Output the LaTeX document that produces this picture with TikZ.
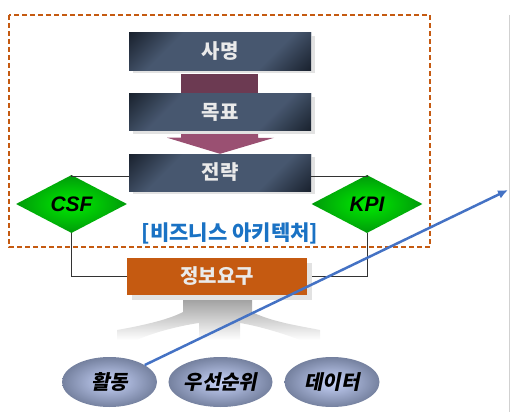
\documentclass[tikz,border=0pt]{standalone}
\usepackage{fontspec}
\setmainfont{Noto Sans CJK KR}
\newfontfamily\krit[FakeSlant=0.2]{Noto Sans CJK KR}
\newfontfamily\latit{Liberation Sans}
\usetikzlibrary{shapes.geometric,shadows,arrows.meta,calc}
\definecolor{boxdk}{HTML}{18202C}
\definecolor{boxmd}{HTML}{47576F}
\definecolor{boxtxt}{HTML}{EAEAEA}
\definecolor{orng}{HTML}{C55A11}
\definecolor{mauveA}{HTML}{6C3A52}
\definecolor{mauveB}{HTML}{9A5072}
\definecolor{archblue}{HTML}{1A72C4}
\definecolor{arrblue}{HTML}{4472C4}
\definecolor{grnin}{HTML}{00EC00}
\definecolor{grnout}{HTML}{009A0A}
\definecolor{ellin}{HTML}{C8D4FA}
\definecolor{ellout}{HTML}{75819F}
\definecolor{shd}{HTML}{E2E2E2}
\pgfdeclarehorizontalshading{boxsh}{100bp}{color(0bp)=(boxdk); color(14bp)=(boxdk); color(32bp)=(boxmd); color(68bp)=(boxmd); color(86bp)=(boxdk); color(100bp)=(boxdk)}
\begin{document}
\begin{tikzpicture}[x=1pt,y=-1pt,
  darkbox/.style={shading=boxsh, shading angle=-45, minimum width=182pt, minimum height=37pt,
    inner sep=0pt, text=boxtxt, font=\fontsize{20}{20}\selectfont\bfseries,
    drop shadow={shadow xshift=4pt, shadow yshift=-3pt, fill=shd, opacity=1}},
  infobox/.style={fill=orng, minimum width=180pt, minimum height=37pt, inner sep=0pt,
    text=boxtxt, font=\fontsize{20}{20}\selectfont\bfseries,
    drop shadow={shadow xshift=5pt, shadow yshift=-5pt, fill=shd, opacity=1}},
  gem/.style={diamond, minimum width=111pt, minimum height=58pt, inner sep=0pt,
    inner color=grnin, outer color=grnout, font=\latit\bfseries\itshape\fontsize{21}{21}\selectfont},
  ell/.style={ellipse, minimum width=95pt, minimum height=50pt, inner sep=0pt,
    inner color=ellin, outer color=ellout, font=\krit\bfseries\fontsize{20}{20}\selectfont},
  link/.style={draw=black!80, line width=0.8pt},
]
\useasboundingbox (0,0) rectangle (511,412);
% right border line
\draw[line width=1.6pt, draw=black!18] (509.5,15) -- (509.5,412);
% dashed frame
\draw[orng, line width=1.8pt, dash pattern=on 5pt off 3pt] (9,15) rectangle (430,247);

% roots shape
\shade[top color=black!38, bottom color=white]
  (183,298) -- (252,298) -- (252,312) .. controls (272,322) and (300,326) .. (320,330)
  -- (320,340) -- (300,340) .. controls (282,333) and (258,326) .. (240,323) -- (240,340)
  -- (199,340) -- (199,323) .. controls (178,326) and (152,333) .. (137,340) -- (117,340)
  -- (117,330) .. controls (140,326) and (168,320) .. (183,312) -- cycle;

% nodes
\node[darkbox] (sa) at (220,51.5) {사명};
\node[darkbox] (mok) at (220,112) {목표};
\node[darkbox] (strat) at (220,172.5) {전략};
\node[infobox] (info) at (217,276.5) {정보요구};
\node[gem] (csf) at (71.5,204) {CSF};
\node[gem] (kpi) at (367,204) {KPI};
\node[ell] (act) at (109.5,382) {활동};
\node[ell] (pri) at (220.5,382) {우선순위};
\node[ell] (dat) at (332,382) {데이터};
\node[text=archblue, font=\fontsize{21}{21}\selectfont\bfseries] (arch) at (230,233) {[비즈니스 아키텍처]};

% block arrows between boxes
\fill[mauveA] ($(sa.south)+(-39,4)$) rectangle ($(mok.north)+(38,0)$);
\fill[mauveB] ($(mok.south)+(-39,0)$) -- ++(0,7) -- ++(-14,0) -- (strat.north) -- ++(54,-16) -- ++(-16,0) -- ++(0,-7) -- cycle;
% redraw boxes on top of arrows
\node[darkbox] at (sa) {사명};
\node[darkbox] at (mok) {목표};
\node[darkbox] at (strat) {전략};

% connectors
\draw[link] ([yshift=-4pt]strat.west) -| (csf.north);
\draw[link] ([yshift=-4pt]strat.east) -| (kpi.north);
\draw[link] (csf.south) |- (info.west);
\draw[link] (kpi.south) |- (info.east);
\node[infobox] at (info) {정보요구};

% blue arrow
\coordinate (tip) at (508,190);
\draw[arrblue, line width=2.5pt, -{Latex[length=10pt,width=9pt]}] (act) -- (tip);
\end{tikzpicture}
\end{document}
